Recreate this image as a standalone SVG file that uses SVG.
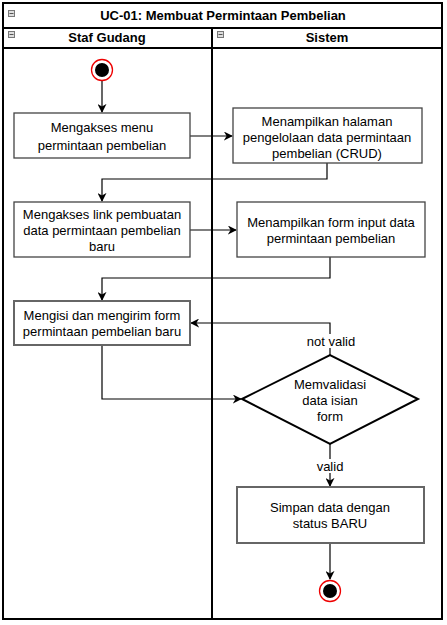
<svg xmlns="http://www.w3.org/2000/svg" width="447" height="625" viewBox="0 0 447 625">
<style>
text{font-family:"Liberation Sans",Arial,sans-serif;font-size:13px;fill:#000;text-anchor:middle}
.b{font-weight:bold;font-size:13px}
.box{fill:#fff;stroke:#444;stroke-width:1.3}
.box2{fill:#fff;stroke:#666;stroke-width:2}
.lane{fill:none;stroke:#000;stroke-width:2}
.c{fill:none;stroke:#000;stroke-width:1.2}
.icon{fill:#ddd;stroke:#777;stroke-width:1}
.lbl{fill:#fff}
</style>
<defs>
<marker id="ar" viewBox="0 0 10 10" refX="9" refY="5" markerWidth="9" markerHeight="9" markerUnits="userSpaceOnUse" orient="auto">
<path d="M0,0 L10,5 L0,10 L3,5 z" fill="#000"/>
</marker>
</defs>
<rect width="447" height="625" fill="#fff"/>
<g id="pool">
<rect x="3" y="3" width="439" height="616" class="lane" fill="#fff"/>
<line x1="3" y1="28" x2="442" y2="28" class="lane"/>
<line x1="3" y1="48" x2="442" y2="48" class="lane"/>
<line x1="212" y1="28" x2="212" y2="619" class="lane"/>
<rect x="8.5" y="10.5" width="6" height="6" class="icon"/><line x1="9.5" y1="13.5" x2="13.5" y2="13.5" stroke="#555"/>
<rect x="8.5" y="31.5" width="6" height="6" class="icon"/><line x1="9.5" y1="34.5" x2="13.5" y2="34.5" stroke="#555"/>
<rect x="217.5" y="31.5" width="6" height="6" class="icon"/><line x1="218.5" y1="34.5" x2="222.5" y2="34.5" stroke="#555"/>
<text x="223" y="20" class="b">UC-01: Membuat Permintaan Pembelian</text>
<text x="107" y="42" class="b">Staf Gudang</text>
<text x="327" y="42" class="b">Sistem</text>
</g>
<g id="connectors">
<path d="M102,81 V112" class="c" marker-end="url(#ar)"/>
<path d="M190,136 H232" class="c" marker-end="url(#ar)"/>
<path d="M327,163 V179 H102 V201" class="c" marker-end="url(#ar)"/>
<path d="M190,230 H236" class="c" marker-end="url(#ar)"/>
<path d="M330,257 V278 H102 V300" class="c" marker-end="url(#ar)"/>
<path d="M330,355 V323 H191" class="c" marker-end="url(#ar)"/>
<rect x="305" y="334" width="52" height="14" class="lbl"/>
<text x="331" y="345.5">not valid</text>
<path d="M102,345 V399 H241" class="c" marker-end="url(#ar)"/>
<path d="M330,444 V486" class="c" marker-end="url(#ar)"/>
<rect x="314" y="459" width="32" height="14" class="lbl"/>
<text x="330" y="470.5">valid</text>
<path d="M330,543 V579" class="c" marker-end="url(#ar)"/>
</g>
<g id="start">
<circle cx="102" cy="70" r="10.5" fill="#fff" stroke="#e00" stroke-width="1.3"/>
<circle cx="102" cy="70" r="7" fill="#000"/>
</g>
<g id="n1">
<rect x="14" y="113" width="176" height="45" class="box"/>
<text x="102" y="132">Mengakses menu</text>
<text x="102" y="150">permintaan pembelian</text>
</g>
<g id="n2">
<rect x="233" y="108" width="189" height="55" class="box"/>
<text x="327" y="126">Menampilkan halaman</text>
<text x="327" y="142">pengelolaan data permintaan</text>
<text x="327" y="158">pembelian (CRUD)</text>
</g>
<g id="n3">
<rect x="14" y="202" width="176" height="55" class="box"/>
<text x="102" y="219">Mengakses link pembuatan</text>
<text x="102" y="235">data permintaan pembelian</text>
<text x="102" y="251">baru</text>
</g>
<g id="n4">
<rect x="237" y="202" width="188" height="55" class="box"/>
<text x="331" y="227">Menampilkan form input data</text>
<text x="331" y="243">permintaan pembelian</text>
</g>
<g id="n5">
<rect x="14" y="301" width="176" height="44" class="box2"/>
<text x="102" y="320">Mengisi dan mengirim form</text>
<text x="102" y="336">permintaan pembelian baru</text>
</g>
<g id="decision">
<polygon points="242,399 330,355 418,399 330,444" fill="#fff" stroke="#000" stroke-width="2"/>
<text x="330" y="389">Memvalidasi</text>
<text x="330" y="405">data isian</text>
<text x="330" y="421">form</text>
</g>
<g id="n6">
<rect x="237" y="487" width="187" height="56" class="box2"/>
<text x="330" y="512">Simpan data dengan</text>
<text x="330" y="528">status BARU</text>
</g>
<g id="end">
<circle cx="330" cy="591" r="10.5" fill="#fff" stroke="#e00" stroke-width="1.3"/>
<circle cx="330" cy="591" r="7" fill="#000"/>
</g>
</svg>
